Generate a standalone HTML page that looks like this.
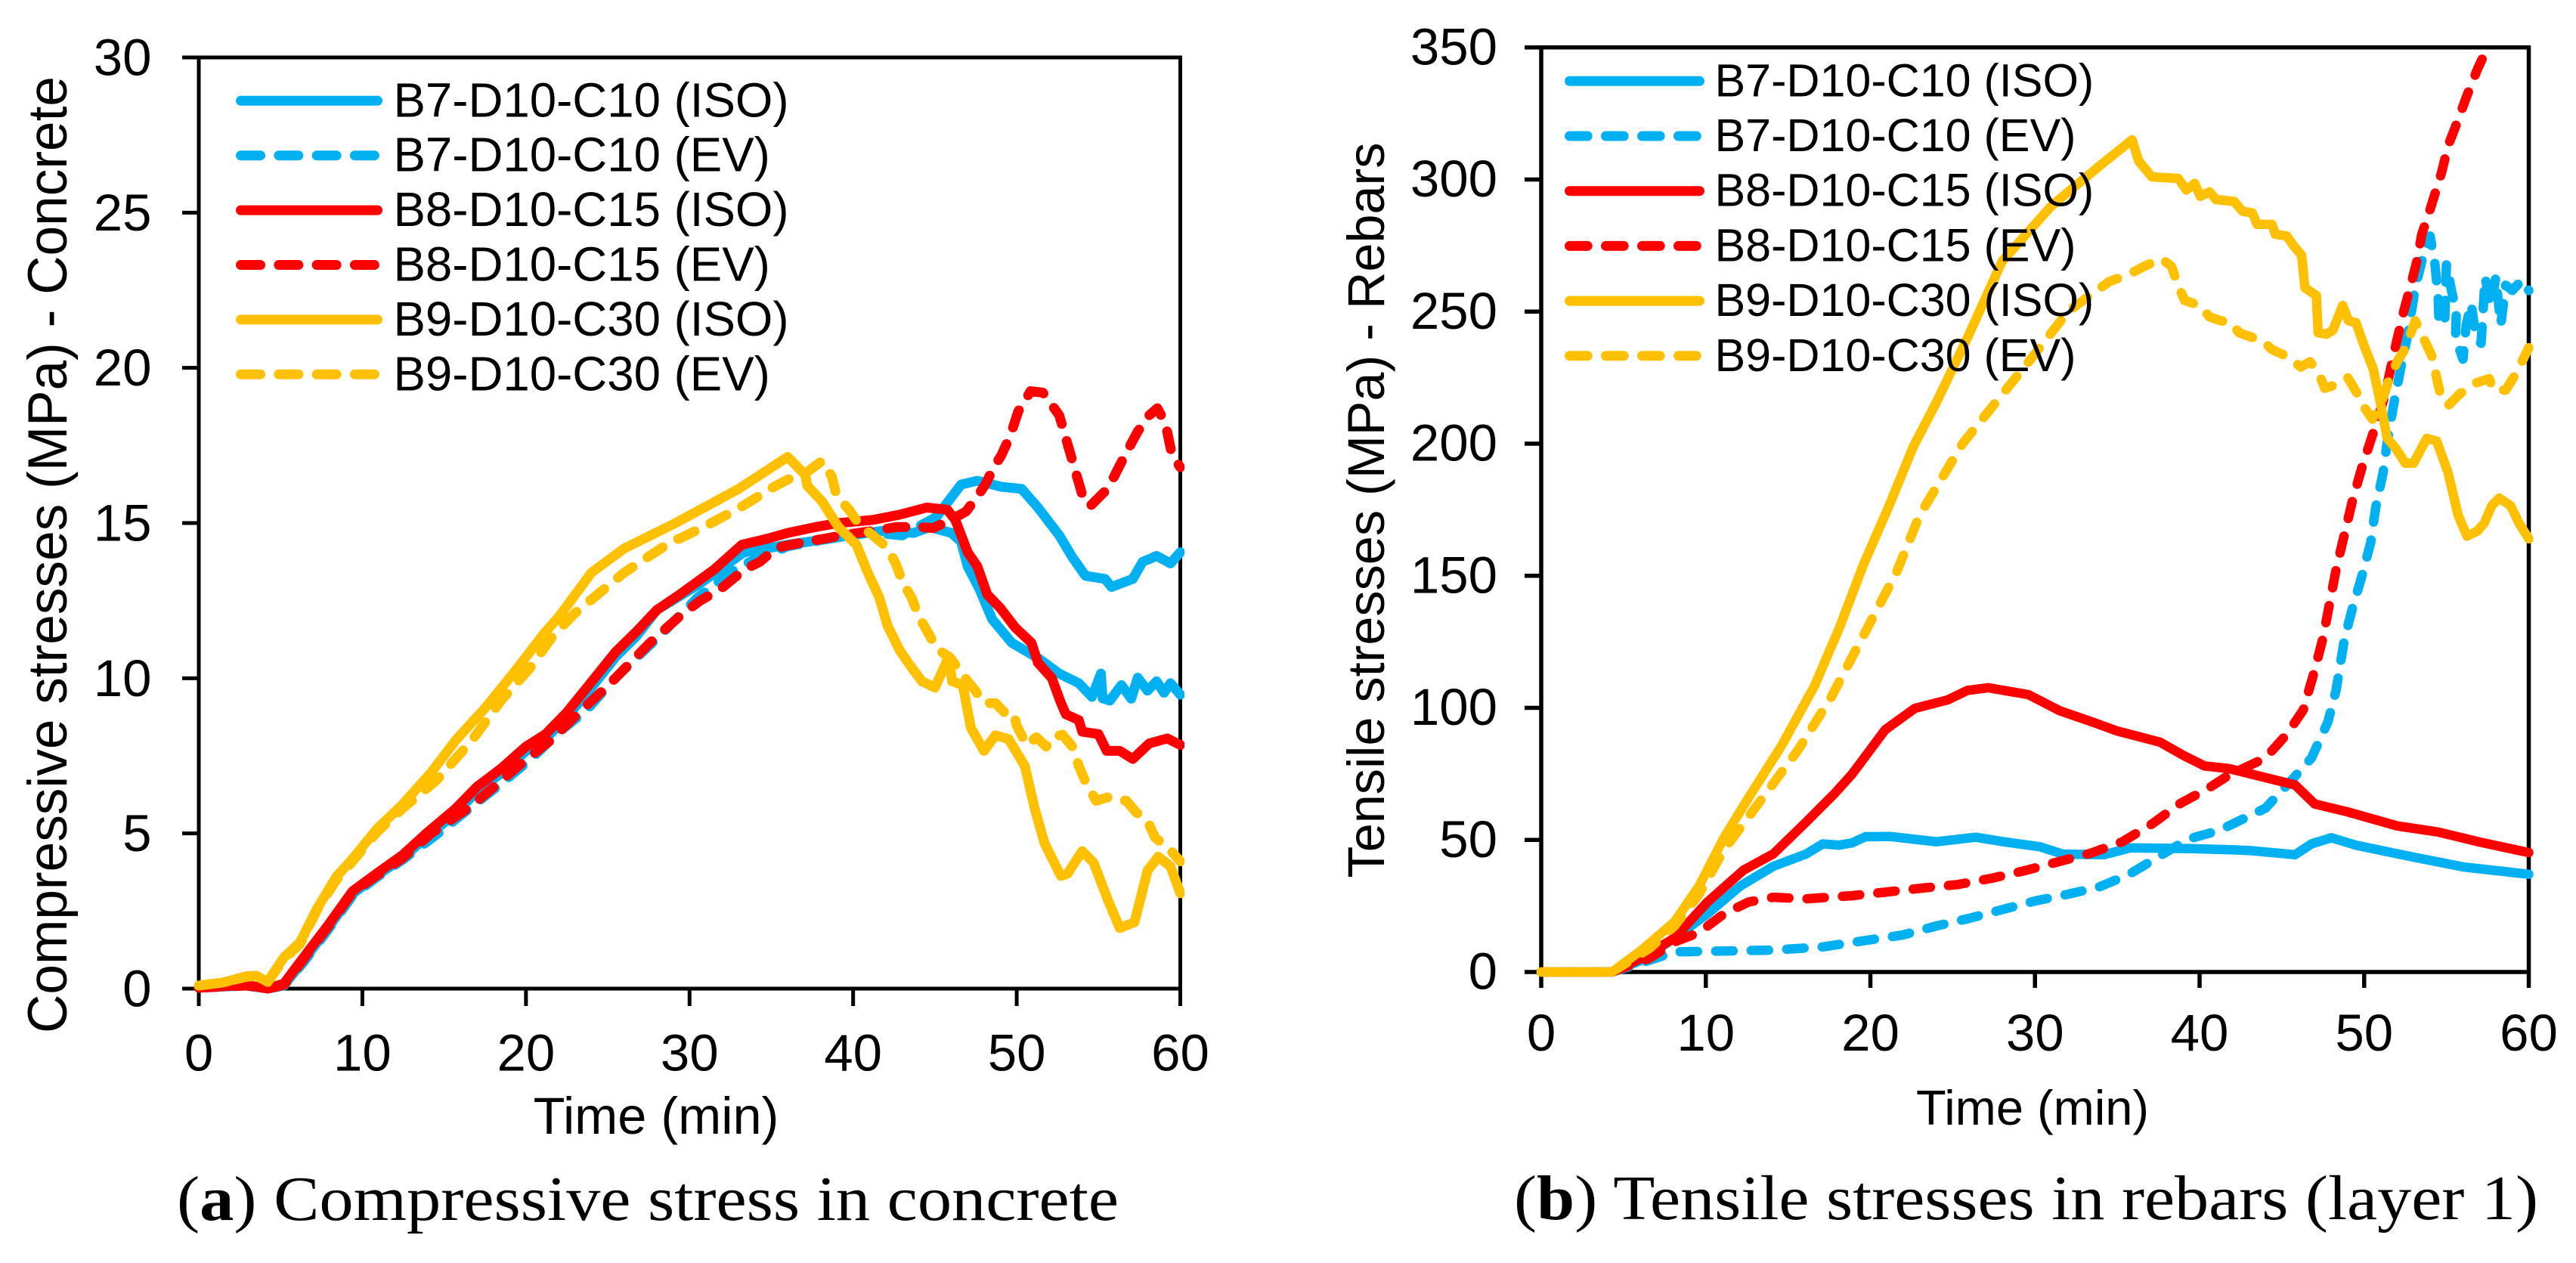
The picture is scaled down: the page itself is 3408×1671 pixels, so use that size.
<!DOCTYPE html>
<html lang="en">
<head>
<meta charset="utf-8">
<title>Compressive and tensile stresses over time</title>
<style>
html,body{margin:0;padding:0;background:#fff;}
svg{display:block;}
text{font-family:"Liberation Sans",Arial,sans-serif;fill:#000;}
.cap{font-family:"Liberation Serif","Times New Roman",serif;}
</style>
</head>
<body>
<svg id="fig" xmlns="http://www.w3.org/2000/svg" width="3408" height="1671" viewBox="0 0 3408 1671">
  <rect x="0" y="0" width="3408" height="1671" fill="#fff"/>
  <defs>
    <clipPath id="clipA"><rect x="255" y="74" width="1312" height="1250"/></clipPath>
    <clipPath id="clipB"><rect x="2030" y="65.5" width="1322" height="1240"/></clipPath>
  </defs>
  <g id="chartA"></g>
  <g id="chartB"></g>
  <text transform="translate(88,734) rotate(-90)" text-anchor="middle" font-size="73" textLength="1266" lengthAdjust="spacingAndGlyphs">Compressive stresses (MPa) - Concrete</text>
  <text x="868" y="1500" text-anchor="middle" font-size="68.5">Time (min)</text>
  <text transform="translate(1831,675) rotate(-90)" text-anchor="middle" font-size="69" textLength="973" lengthAdjust="spacingAndGlyphs">Tensile stresses (MPa) - Rebars</text>
  <text x="2689" y="1488" text-anchor="middle" font-size="65">Time (min)</text>
  <text class="cap" x="234" y="1614" font-size="84" textLength="1246" lengthAdjust="spacingAndGlyphs">(<tspan font-weight="bold">a</tspan>) Compressive stress in concrete</text>
  <text class="cap" x="2003" y="1613" font-size="84" textLength="1355" lengthAdjust="spacingAndGlyphs">(<tspan font-weight="bold">b</tspan>) Tensile stresses in rebars (layer 1)</text>
</svg>
<script>
// ---- shared tick labels and legend labels ----
const timeTicks = [0, 10, 20, 30, 40, 50, 60];
const stressTicksA = [0, 5, 10, 15, 20, 25, 30];
const stressTicksB = [0, 50, 100, 150, 200, 250, 300, 350];
const legendLabels = ["B7-D10-C10 (ISO)", "B7-D10-C10 (EV)", "B8-D10-C15 (ISO)", "B8-D10-C15 (EV)", "B9-D10-C30 (ISO)", "B9-D10-C30 (EV)"];

// ---- chart (a): compressive stress in concrete ----
const aB7IsoT = [0,2.9,4.2,5.2,6.4,7.9,9.4,10.9,12.45,13.95,15.7,17,18.5,20,21.2,22.5,24,25.5,26.75,28,30.5,33.3,36,37.7,39.3,41.8,43.7,44.7,46,46.6,47,47.7,48.5,49.7,51.3,52.6,53.8,54.6,55.15,55.25,55.7,56.4,57,57.4,58,58.55,59,59.4,60];
const aB7IsoV = [0.03,0.1,0,0.1,0.9,1.95,3.05,3.65,4.2,4.9,5.65,6.35,6.95,7.65,8.05,8.75,9.7,10.7,11.35,12.2,13,14.05,14.3,14.43,14.56,14.75,14.68,14.87,14.68,14.4,13.6,12.9,11.9,11.14,10.65,10.15,9.84,9.4,10.15,9.35,9.28,9.78,9.34,10.02,9.6,9.9,9.53,9.84,9.47];
const aB7EvT = [0,2.9,4.2,5.2,6.4,7.9,9.4,10.9,12.45,14.5,17,18.7,20.5,22,23.75,25.25,28.3,30.5,33,36,38,41,43,45.1,46.6,47.6,49.05,50.3,51.3,52.6,53.4,54.2,55.4,55.8,57.1,57.7,58.55,59.4,60];
const aB7EvV = [0.03,0.1,0,0.1,0.85,1.9,3,3.6,4.15,4.95,6,6.7,7.5,8.26,9,9.9,11.44,12.6,13.6,14.25,14.45,14.7,14.6,15.2,16.24,16.36,16.17,16.1,15.5,14.6,13.9,13.3,13.2,12.94,13.2,13.75,13.94,13.7,14.06];
const aB8IsoT = [0,2.9,4.2,5.2,6.4,7.9,9.4,10.9,12.45,13.95,15.7,17,18.5,20,21.2,22.5,24,25.5,26.75,28,29.4,31.5,33.2,34.8,36,37.7,39.1,41.2,42.85,44.5,45.75,46.25,47,47.6,48.2,49,49.9,50.9,51.3,52.15,52.65,53,53.8,54,55,55.5,56.3,57.1,58.1,59.2,60];
const aB8IsoV = [0.03,0.12,0,0.16,1,2.04,3.14,3.72,4.3,5.02,5.8,6.5,7.1,7.8,8.2,8.9,9.88,10.86,11.5,12.2,12.7,13.5,14.3,14.5,14.68,14.87,15,15.1,15.27,15.5,15.43,15.1,14.06,13.6,12.7,12.26,11.64,11.14,10.5,10,9.28,8.84,8.65,8.28,8.2,7.66,7.66,7.4,7.9,8.06,7.85];
const aB8EvT = [0,2.9,4.2,5.2,6.4,7.9,9.4,10.9,12.45,14.2,16.7,19.5,21.5,23.25,25,27.5,29.4,30.65,31.9,33.35,34.3,35.3,36.2,37.5,38.3,39.3,41.6,42.65,44.1,44.9,45.95,46.9,47.6,48.1,48.6,49.05,49.6,50.1,50.85,51.6,52.6,53.1,53.6,54.1,54.5,55.6,56.6,57.4,58.1,58.6,59.1,59.5,60];
const aB8EvV = [0.03,0.1,0,0.12,0.95,2,3.1,3.65,4.2,5,5.9,7.16,8,8.9,9.75,11.1,12,12.5,12.88,13.5,13.75,14.2,14.3,14.43,14.5,14.6,14.78,14.87,14.87,14.84,15.1,15.37,15.86,16.26,16.8,17.17,17.8,18.6,19.25,19.2,18.47,17.56,16.65,15.74,15.55,16.13,17.17,17.95,18.47,18.7,18.2,17.17,16.8];
const aB9IsoT = [0,1.5,2.9,3.5,4.2,5.2,6.2,7.2,8.4,9.4,10.9,12.45,14.2,15.7,17.5,19.2,21.2,22,24,26,29,33,36,37.07,37.2,38.1,39.1,40.2,40.9,41.6,42.1,42.85,43.5,44.2,45,45.85,46.05,46.7,47.2,48,48.7,49.5,50.5,51.1,51.7,52.7,53.1,54,54.7,55.6,56.3,57.2,58,58.65,59.4,60];
const aB9IsoV = [0.1,0.2,0.4,0.42,0.22,1,1.5,2.55,3.6,4.18,5.15,5.93,6.96,8,9.04,10.14,11.5,11.97,13.4,14.18,14.96,16.1,17.13,16.55,16.2,15.7,14.87,14.3,13.4,12.6,11.7,10.9,10.4,9.9,9.7,10.7,9.9,9.78,8.4,7.66,8.16,8.04,7.17,5.8,4.68,3.63,3.7,4.43,4.06,2.82,1.95,2.14,3.8,4.25,3.94,3.07];
const aB9EvT = [0,1.5,2.9,3.5,4.2,5.2,6.2,7.2,8.4,9.4,10.9,12.45,14.5,16.7,18.5,20.2,21.7,23,26,29,29.4,31.07,33.1,35.1,36,37.2,38.1,38.7,39,39.75,40.4,41.3,42.1,42.6,43.05,43.6,44,44.6,45.1,45.95,47,47.4,48,48.7,49.25,49.8,50,50.6,51.2,51.8,52.15,52.8,53.4,53.8,54.2,54.85,55.6,56.7,57.3,58,58.45,59.4,60];
const aB9EvV = [0.1,0.2,0.38,0.4,0.2,0.95,1.45,2.5,3.5,4.1,5.05,5.8,6.7,8,9.3,10.3,11.4,12.1,13.4,14.44,14.5,14.93,15.5,16.15,16.4,16.65,17,16.5,15.86,15.43,14.93,14.56,14.2,13.7,13.07,12.57,12,11.45,10.96,10.65,9.9,9.65,9.2,9.2,8.9,8.9,8.47,7.85,8.1,7.8,8.1,8.18,7.8,7.17,6.67,6.05,6.17,6.05,5.68,5.4,4.87,4.46,4.1];

// ---- chart (b): tensile stresses in rebars ----
const bB7IsoT = [0,4.3,6.1,8.1,10.1,12.1,14.1,16.1,17.1,18.1,18.9,19.7,21.2,24,26.4,28.1,30.3,31.7,34.2,35.8,39.5,41.9,43,45.8,46.8,48,49.5,53,56,60];
const bB7IsoV = [0,0,4.5,12.9,22,32.6,40,44.7,48.5,48,48.9,51.2,51.3,49.3,51,49.3,47.4,44.6,44.4,47,46.7,46.3,46,44.4,48.5,50.8,48,43.5,39.8,37];
const bB7EvT = [0,4.3,6.6,8.1,10.6,14.1,17.1,18.9,21.95,24,26,28,30,31.9,33.9,35.7,37.5,39.3,41.2,44,45.5,46.8,47.8,48.3,48.8,49.3,49.85,50.4,50.7,51.15,51.4,51.8,52.2,52.65,53.1,53.5,54,54.3,54.5,54.55,54.9,55,55.3,55.6,55.55,56,56.2,56.5,56.8,57.1,57.35,57.7,58,58.3,58.6,59,59.6,60];
const bB7EvV = [0,0,4.5,7.6,7.9,8.3,9.5,11.2,14,17.4,20.3,23.6,26.9,29.3,32.2,36.9,43.6,50.3,53.6,62,72,81,94.7,106.8,126,138,149.6,162.7,175.8,189,200.6,215,228,241.4,259,269,278.6,268,255,245,247,268,258,250,240,232,245,253,240,238,263,252,263,245,260,258,262,258];
const bB8IsoT = [0,4.3,6.1,8.1,10.1,12.3,14.1,16.1,17.8,18.9,20.9,22.7,24.7,25.9,27.15,29.6,31.5,33.5,35,36.2,37.6,39.1,40.3,41.8,45.8,47,49,52,54.5,57,60];
const bB8IsoV = [0,0,5.3,12.9,26.5,38.6,44.7,56.8,67.4,75,91.7,99.8,103,106.6,107.6,105,98.9,94.6,91.2,89.3,87,81.7,78,77,70.8,63.6,60.6,55.3,53,49.2,45.2];
const bB8EvT = [0,4.3,6.6,8.1,9.6,11.1,12.6,14.1,16.1,18.9,21,23.2,25.3,27.4,29.4,31.4,33.4,35.3,37.1,38.8,40.6,41.8,44,45.3,46.3,47,47.5,48.3,48.8,49.3,49.9,50.6,51.25,51.8,52.4,52.85,53.2,53.5,54.05,54.7,55.1,55.55,56.25,56.9,57.5,58.3,59,59.7,60];
const bB8EvV = [0,0,5.3,11.4,15,22,26.5,28.3,27.7,28.9,30.3,31.8,33.1,35.5,38.4,41.7,45,49.3,56,63.7,69.8,74.6,81,90,99.2,114.4,126.5,152.5,165.6,178.7,191.8,205,218,234,250,260.4,269,279.3,289.5,302.6,312.8,320,331.8,342,350,362,368,351,349];
const bB9IsoT = [0,4.3,6.1,8.1,9.6,11.1,12.6,14.6,16.6,18.1,19.6,21.1,22.6,24,26,28,31,34,35.9,36.3,37.1,38.7,39.2,39.7,40.05,40.6,41,42.1,42.6,43.2,43.5,44.4,44.6,45.3,45.7,46.2,46.4,47.1,47.2,47.7,48.1,48.7,49.05,49.5,50,50.55,51,51.4,51.9,52.5,53,53.8,54.4,55.1,55.7,56.25,56.9,57.3,57.75,58.2,58.9,59.4,60];
const bB9IsoV = [0,0,8.3,19,32.6,50.8,66,85.6,108.3,130,154.6,176,198.8,215.5,241.5,269,290,305.5,315,307,301,300.4,296,298.5,293.6,295.3,292.4,291.7,288,287.3,283,283,279.3,278.6,275,271.3,259,256,242,241.4,243,252.3,246.5,245.8,237,228.3,215,202,198.4,192.6,192.6,202,201,189,173,165,167,170,176.5,179.4,176.5,170,164];
const bB9EvT = [0,4.3,6.6,8.1,9.6,11.1,13.1,15.6,17.6,19.8,21.6,23,25.6,27.6,30,32,34.5,35.8,36.7,37.7,38.3,38.7,39.1,40,40.6,41.3,41.9,42.4,43.3,43.9,44.4,45.45,46.15,46.7,47.2,47.6,48.4,49,49.6,50,50.5,51.1,51.5,52,52.5,53.1,53.6,54.1,54.6,55.1,55.8,56.8,57.6,57.85,58.6,59.25,60];
const bB9EvV = [0,0,9,17.4,29.5,46.2,63,84,103.8,130,151.5,173,200,215.5,234,250,261.3,264.4,267.3,270,267,259.6,254.2,252.3,248,246.5,245.8,242,240,238.5,235.6,232.6,229,231,227.5,221,222.5,225,218.8,213.7,209.3,216.6,224,231,236,246.5,240,233.4,219.5,214.4,218.8,223,224.6,220.3,220.3,226.8,236.3];

// ---- colours and series tables ----
const colorB7 = "#00b0f0";
const colorB8 = "#ff0000";
const colorB9 = "#ffc000";
const seriesA = [
  {id:"b7-iso", t:aB7IsoT, v:aB7IsoV, color:colorB7, dashed:false},
  {id:"b7-ev",  t:aB7EvT,  v:aB7EvV,  color:colorB7, dashed:true, solidAfter:46},
  {id:"b8-iso", t:aB8IsoT, v:aB8IsoV, color:colorB8, dashed:false},
  {id:"b8-ev",  t:aB8EvT,  v:aB8EvV,  color:colorB8, dashed:true},
  {id:"b9-iso", t:aB9IsoT, v:aB9IsoV, color:colorB9, dashed:false},
  {id:"b9-ev",  t:aB9EvT,  v:aB9EvV,  color:colorB9, dashed:true}
];
const seriesB = [
  {id:"b7-iso", t:bB7IsoT, v:bB7IsoV, color:colorB7, dashed:false},
  {id:"b7-ev",  t:bB7EvT,  v:bB7EvV,  color:colorB7, dashed:true},
  {id:"b8-iso", t:bB8IsoT, v:bB8IsoV, color:colorB8, dashed:false},
  {id:"b8-ev",  t:bB8EvT,  v:bB8EvV,  color:colorB8, dashed:true},
  {id:"b9-iso", t:bB9IsoT, v:bB9IsoV, color:colorB9, dashed:false},
  {id:"b9-ev",  t:bB9EvT,  v:bB9EvV,  color:colorB9, dashed:true}
];

const NS = "http://www.w3.org/2000/svg";

function make(parent, tag, name, attrs) {
  const el = document.createElementNS(NS, tag);
  
  
  for (const k in attrs) el.setAttribute(k, attrs[k]);
  parent.appendChild(el);
  return el;
}

function polyPath(ts, vs, xf, yf) {
  let d = "";
  for (let i = 0; i < ts.length; i++) {
    d += (i ? "L" : "M") + xf(ts[i]).toFixed(1) + " " + yf(vs[i]).toFixed(1);
  }
  return d;
}

function drawChart(cfg) {
  const root = document.getElementById(cfg.rootId);
  const xf = t => cfg.left + (t - 0) / 60 * (cfg.right - cfg.left);
  const yf = v => cfg.bottom - v / cfg.yMax * (cfg.bottom - cfg.top);
  const axisStyle = {stroke:"#000", "stroke-width":cfg.axisWidth, fill:"none"};

  // plot frame
  make(root, "rect", "plot-frame", Object.assign({x:cfg.left, y:cfg.top, width:cfg.right-cfg.left, height:cfg.bottom-cfg.top}, axisStyle));

  // y ticks and labels
  cfg.yTicks.forEach(v => {
    make(root, "line", "y-tick", Object.assign({x1:cfg.left-cfg.yTickLen, x2:cfg.left, y1:yf(v), y2:yf(v)}, axisStyle));
    const t = make(root, "text", "y-tick-label", {x:cfg.yLabelX, y:yf(v)+cfg.yLabelDy, "text-anchor":"end", "font-size":69});
    t.textContent = String(v);
  });
  // x ticks and labels
  timeTicks.forEach(v => {
    make(root, "line", "x-tick", Object.assign({x1:xf(v), x2:xf(v), y1:cfg.bottom, y2:cfg.bottom+cfg.xTickLen}, axisStyle));
    const t = make(root, "text", "x-tick-label", {x:xf(v), y:cfg.xLabelY, "text-anchor":"middle", "font-size":69});
    t.textContent = String(v);
  });

  // series
  const plot = make(root, "g", "plot-area", {"clip-path":"url(#"+cfg.clip+")"});
  cfg.series.forEach(s => {
    const base = {fill:"none", stroke:s.color, "stroke-width":cfg.lineWidth, "stroke-linecap":"round", "stroke-linejoin":"round"};
    if (s.solidAfter !== undefined) {
      const k = s.t.findIndex(x => x > s.solidAfter);
      make(plot, "path", "series-"+s.id, Object.assign({d:polyPath(s.t.slice(0,k), s.v.slice(0,k), xf, yf), "stroke-dasharray":cfg.dash}, base));
      make(plot, "path", "series-"+s.id+"-noisy-tail", Object.assign({d:polyPath(s.t.slice(k-1), s.v.slice(k-1), xf, yf)}, base));
    } else {
      const attrs = Object.assign({d:polyPath(s.t, s.v, xf, yf)}, base);
      if (s.dashed) attrs["stroke-dasharray"] = cfg.dash;
      make(plot, "path", "series-"+s.id, attrs);
    }
  });

  // legend
  const legend = make(root, "g", "legend", {});
  legendLabels.forEach((label, i) => {
    const y = cfg.legendY + i * cfg.legendStep;
    const s = cfg.series[i];
    const attrs = {x1:cfg.legendX1, x2:cfg.legendX2, y1:y, y2:y, stroke:s.color, "stroke-width":13, "stroke-linecap":"round"};
    if (s.dashed) attrs["stroke-dasharray"] = cfg.legendDash;
    make(legend, "line", "legend-swatch-"+s.id, attrs);
    const t = make(legend, "text", "legend-entry-"+s.id, {x:cfg.legendTextX, y:y+cfg.legendDy, "font-size":cfg.legendFont});
    t.textContent = label;
  });
}

drawChart({
  rootId:"chartA", clip:"clipA", series:seriesA, yTicks:stressTicksA, yMax:30,
  left:263, right:1561.5, top:76, bottom:1308, axisWidth:5,
  yTickLen:22, xTickLen:23, yLabelX:200.5, yLabelDy:23.5, xLabelY:1416.5,
  lineWidth:13, dash:"24 23.5", legendDash:"26 24.3",
  legendY:133.3, legendStep:72.4, legendX1:318.5, legendX2:499.5, legendTextX:520.5, legendDy:21, legendFont:63.6
});
drawChart({
  rootId:"chartB", clip:"clipB", series:seriesB, yTicks:stressTicksB, yMax:350,
  left:2039, right:3345.5, top:62.7, bottom:1286, axisWidth:5.5,
  yTickLen:22, xTickLen:21, yLabelX:1981, yLabelDy:22.7, xLabelY:1390,
  lineWidth:12.5, dash:"23 24", legendDash:"23.7 24.3",
  legendY:107.3, legendStep:72.7, legendX1:2076.5, legendX2:2248.5, legendTextX:2268.5, legendDy:20, legendFont:61
});
</script>
</body>
</html>
